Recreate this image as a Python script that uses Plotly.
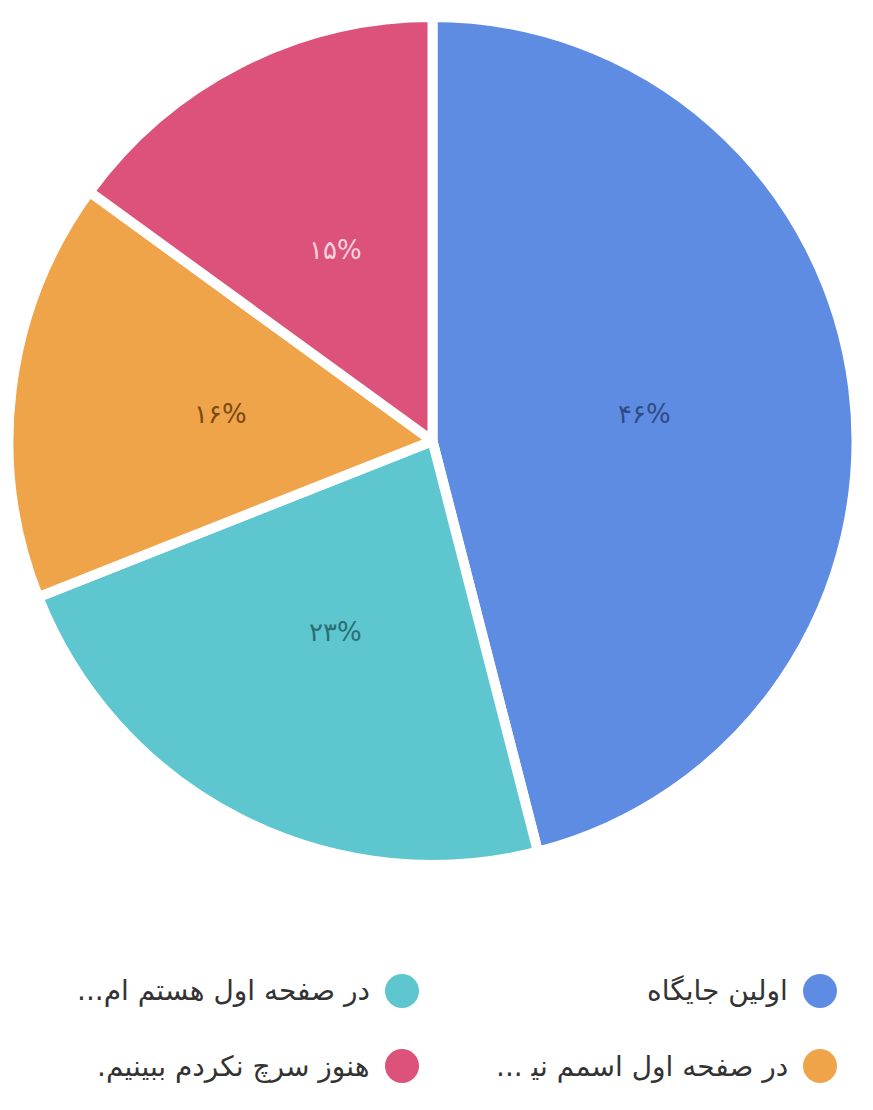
import math
import plotly.graph_objects as go

labels = ["اولین جایگاه", "در صفحه اول هستم ام...", "در صفحه اول اسمم نی\u200d ...", "هنوز سرچ نکردم ببینیم."]
values = [46, 23, 16, 15]
pct_text = ["۴۶%", "۲۳%", "۱۶%", "۱۵%"]
colors = ["#5F8CE3", "#5DC6CF", "#F0A44A", "#DC527A"]
text_colors = ["#2E4B86", "#2B6E74", "#7A4A14", "#FAD3DF"]

FONT = "DejaVu Sans"
W, H = 873, 1110
OFF = 8  # page body margin

dom_x = [0.0, 0.9725]
dom_y = [0.2279, 0.9919]

fig = go.Figure(go.Pie(
    labels=labels,
    values=values,
    textinfo="none",
    marker=dict(colors=colors, line=dict(color="white", width=10)),
    sort=False,
    direction="clockwise",
    rotation=0,
    hoverinfo="label+percent",
    showlegend=False,
    domain=dict(x=dom_x, y=dom_y),
))

# percentage labels placed on each slice's bisector at ~half radius
cx = (dom_x[0] + dom_x[1]) / 2 * W
cy = (1 - (dom_y[0] + dom_y[1]) / 2) * H
R = (dom_y[1] - dom_y[0]) * H / 2
total = sum(values)
annotations = []
cum = 0
for v, t, tc in zip(values, pct_text, text_colors):
    ang = (cum + v / 2) / total * 2 * math.pi
    cum += v
    px = cx + 0.505 * R * math.sin(ang)
    py = cy - 0.505 * R * math.cos(ang)
    annotations.append(dict(text=t, xref="paper", yref="paper", x=px / W, y=1 - py / H,
                            xanchor="center", yanchor="middle", showarrow=False,
                            font=dict(family=FONT, size=26, color=tc)))

# legend (RTL, two columns): markers on the right of text
leg_x_marker = [820 - OFF, 402 - OFF, 820 - OFF, 402 - OFF]
leg_y = [991 - OFF, 991 - OFF, 1066 - OFF, 1066 - OFF]
shapes = []
for i, lab in enumerate(labels):
    mx, my = leg_x_marker[i], leg_y[i]
    r = 17
    shapes.append(dict(type="circle", xref="paper", yref="paper",
                       x0=(mx - r) / W, x1=(mx + r) / W,
                       y0=1 - (my + r) / H, y1=1 - (my - r) / H,
                       fillcolor=colors[i], line=dict(width=0)))
    annotations.append(dict(text="\u200F" + lab + "\u200F", xref="paper", yref="paper",
                            x=(mx - 30) / W, y=1 - my / H,
                            xanchor="right", yanchor="middle", showarrow=False,
                            font=dict(family=FONT, size=28, color="#333333")))

fig.update_layout(
    width=W, height=H,
    margin=dict(l=0, r=0, t=0, b=0),
    paper_bgcolor="white",
    plot_bgcolor="white",
    shapes=shapes,
    annotations=annotations,
)

fig.write_html("out.html")
